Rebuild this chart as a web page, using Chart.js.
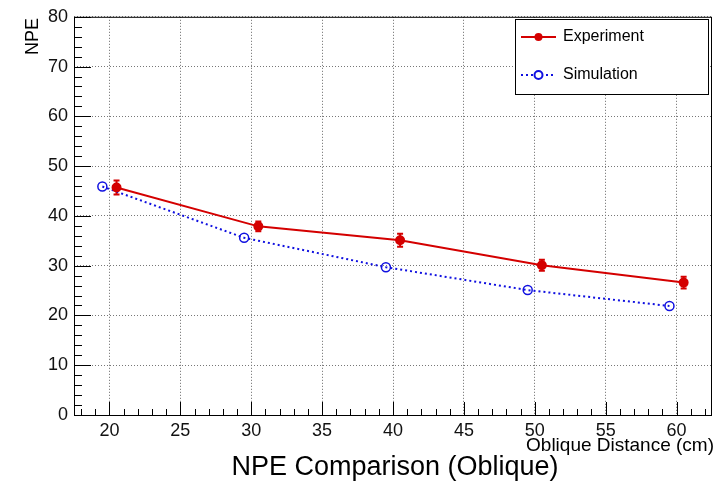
<!DOCTYPE html>
<html>
<head>
<meta charset="utf-8">
<title>NPE Comparison (Oblique)</title>
<script src="https://cdn.jsdelivr.net/npm/chart.js@4.4.1/dist/chart.umd.min.js"></script>
<style>
  html, body { margin: 0; padding: 0; background: #fff; }
  #c { display: block; }
</style>
</head>
<body>
<canvas id="c" width="718" height="485"></canvas>
<script>
// measured NPE vs oblique distance, with errors, and the simulated values
const expDist = [20.5, 30.5, 40.5, 50.5, 60.5];
const expNPE = [45.7, 37.9, 35.1, 30.1, 26.6];
const expErr = [1.4, 1.0, 1.3, 1.1, 1.2];
const simDist = [19.5, 29.5, 39.5, 49.5, 59.5];
const simNPE = [45.9, 35.6, 29.7, 25.1, 21.9];
const xTicks = [20, 25, 30, 35, 40, 45, 50, 55, 60];
const yTicks = [0, 10, 20, 30, 40, 50, 60, 70, 80];

const RED = '#d40000';
const BLUE = '#1010e0';
const FONT = '"Liberation Sans", Arial, Helvetica, sans-serif';

Chart.defaults.font.family = FONT;

function toPts(xs, ys) {
  return xs.map((x, i) => ({ x: x, y: ys[i] }));
}

// ROOT style frame with inward ticks
const frame = {
  id: 'frame',
  afterDatasetsDraw(chart) {
    const ctx = chart.ctx, a = chart.chartArea;
    const xs = chart.scales.x, ys = chart.scales.y;
    ctx.save();
    ctx.strokeStyle = '#000';
    ctx.lineWidth = 1;
    ctx.strokeRect(a.left + 0.5, a.top + 0.5, a.right - a.left - 1, a.bottom - a.top);
    ctx.beginPath();
    for (let v = 18; v <= 62; v += 1) {
      const px = Math.round(xs.getPixelForValue(v)) + 0.5;
      const len = v % 5 === 0 ? 13 : 6;
      ctx.moveTo(px, a.bottom);
      ctx.lineTo(px, a.bottom - len);
    }
    for (let v = 0; v <= 80; v += 2) {
      const py = Math.round(ys.getPixelForValue(v)) + 0.5;
      const len = v % 10 === 0 ? 17 : 8;
      ctx.moveTo(a.left, py);
      ctx.lineTo(a.left + len, py);
    }
    ctx.stroke();
    ctx.restore();
  }
};

// vertical error bars on the experiment points
const errorBars = {
  id: 'errorBars',
  beforeDatasetsDraw(chart) {
    const ctx = chart.ctx;
    const xs = chart.scales.x, ys = chart.scales.y;
    ctx.save();
    ctx.strokeStyle = RED;
    ctx.lineWidth = 2;
    expDist.forEach((d, i) => {
      const px = xs.getPixelForValue(d);
      const top = ys.getPixelForValue(expNPE[i] + expErr[i]);
      const bot = ys.getPixelForValue(expNPE[i] - expErr[i]);
      ctx.beginPath();
      ctx.moveTo(px, top); ctx.lineTo(px, bot);
      ctx.moveTo(px - 3, top); ctx.lineTo(px + 3, top);
      ctx.moveTo(px - 3, bot); ctx.lineTo(px + 3, bot);
      ctx.stroke();
    });
    ctx.restore();
  }
};

// legend box, axis titles and the main title
const texts = {
  id: 'texts',
  afterDraw(chart) {
    const ctx = chart.ctx;
    ctx.save();
    ctx.fillStyle = '#fff';
    ctx.fillRect(515, 19, 193, 75);
    ctx.strokeStyle = '#000';
    ctx.lineWidth = 1;
    ctx.strokeRect(515.5, 19.5, 193, 75);

    ctx.lineWidth = 2;
    ctx.strokeStyle = RED;
    ctx.beginPath(); ctx.moveTo(521, 37); ctx.lineTo(556, 37); ctx.stroke();
    ctx.fillStyle = RED;
    ctx.beginPath(); ctx.arc(538.5, 37, 4, 0, Math.PI * 2); ctx.fill();

    ctx.strokeStyle = BLUE;
    ctx.setLineDash([2, 3]);
    ctx.beginPath(); ctx.moveTo(521, 75); ctx.lineTo(556, 75); ctx.stroke();
    ctx.setLineDash([]);
    ctx.fillStyle = '#fff';
    ctx.beginPath(); ctx.arc(538.5, 75, 4, 0, Math.PI * 2); ctx.fill(); ctx.stroke();

    ctx.fillStyle = '#000';
    ctx.font = '16px ' + FONT;
    ctx.textAlign = 'left';
    ctx.textBaseline = 'middle';
    ctx.fillText('Experiment', 563, 37);
    ctx.fillText('Simulation', 563, 75);

    ctx.font = '19px ' + FONT;
    ctx.textAlign = 'right';
    ctx.fillText('Oblique Distance (cm)', 714, 446);

    ctx.save();
    ctx.translate(33, 18);
    ctx.rotate(-Math.PI / 2);
    ctx.font = '18px ' + FONT;
    ctx.textAlign = 'right';
    ctx.fillText('NPE', 0, 0);
    ctx.restore();

    ctx.font = '27px ' + FONT;
    ctx.textAlign = 'center';
    ctx.fillText('NPE Comparison (Oblique)', 395, 468);
    ctx.restore();
  }
};

new Chart(document.getElementById('c'), {
  type: 'scatter',
  data: {
    datasets: [
      {
        label: 'Experiment',
        data: toPts(expDist, expNPE),
        showLine: true,
        borderColor: RED,
        backgroundColor: RED,
        borderWidth: 2,
        pointRadius: 4,
        pointBackgroundColor: RED,
        pointBorderColor: RED
      },
      {
        label: 'Simulation',
        data: toPts(simDist, simNPE),
        showLine: true,
        borderColor: BLUE,
        borderWidth: 2,
        borderDash: [2, 3],
        pointRadius: 4.5,
        pointBorderWidth: 1.5,
        pointBackgroundColor: 'rgba(0,0,0,0)',
        pointBorderColor: BLUE
      }
    ]
  },
  options: {
    responsive: false,
    animation: false,
    devicePixelRatio: 1,
    layout: { padding: { top: 13, right: 4, left: 0, bottom: 0 } },
    plugins: { legend: { display: false }, tooltip: { enabled: false } },
    scales: {
      x: {
        type: 'linear',
        min: 17.5,
        max: 62.5,
        afterBuildTicks: s => { s.ticks = xTicks.map(v => ({ value: v })); },
        afterFit: s => { s.height = 70; },
        grid: { color: '#666', lineWidth: 1, drawTicks: false },
        border: { display: false, dash: [1, 2] },
        ticks: { color: '#111', font: { size: 18 }, padding: 5, maxRotation: 0 }
      },
      y: {
        type: 'linear',
        min: 0,
        max: 80,
        afterBuildTicks: s => { s.ticks = yTicks.map(v => ({ value: v })); },
        afterFit: s => { s.width = 74; },
        grid: { color: '#777', lineWidth: 1, drawTicks: false },
        border: { display: false, dash: [1, 2] },
        ticks: { color: '#111', font: { size: 18 }, padding: 6 }
      }
    }
  },
  plugins: [errorBars, frame, texts]
});
</script>
</body>
</html>
